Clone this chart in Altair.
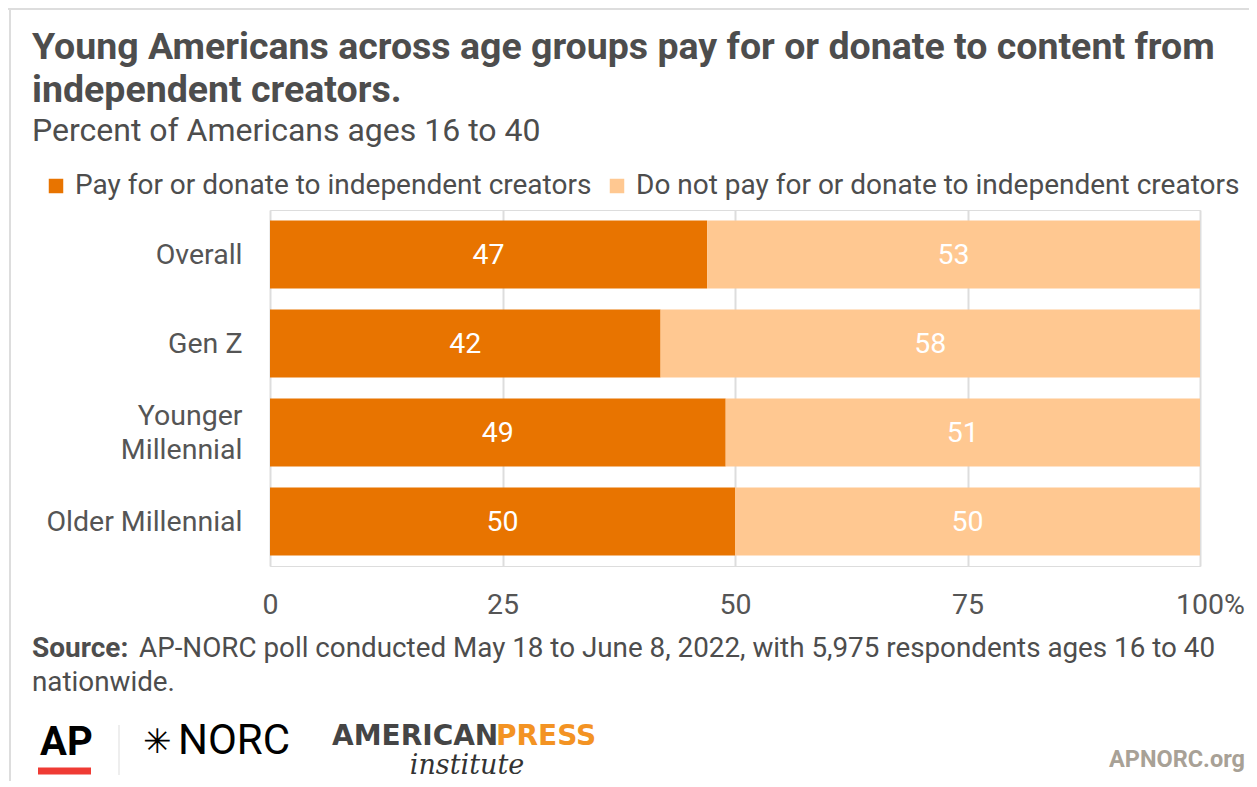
import altair as alt
import pandas as pd

# ---- data ----
categories = ["Overall", "Gen Z", "Younger Millennial", "Older Millennial"]
pay_values = [47, 42, 49, 50]
notpay_values = [53, 58, 51, 50]
series_names = ["Pay for or donate to independent creators",
                "Do not pay for or donate to independent creators"]
series_colors = ["#E87400", "#FFC891"]
x_ticks = [0, 25, 50, 75, 100]

title_lines = ["Young Americans across age groups pay for or donate to content from",
               "independent creators."]
subtitle = "Percent of Americans ages 16 to 40"
source_bold = "Source:"
source_line1 = "AP-NORC poll conducted May 18 to June 8, 2022, with 5,975 respondents ages 16 to 40"
source_line2 = "nationwide."

rows = []
for i, c in enumerate(categories):
    rows.append({"category": c, "series": series_names[0], "order": 0, "value": pay_values[i]})
    rows.append({"category": c, "series": series_names[1], "order": 1, "value": notpay_values[i]})
df = pd.DataFrame(rows)

TEXT = "#4d4d4d"
one = alt.Data(values=[{"a": 1}])


def txt(text, x, y, size, weight="normal", color=TEXT, font="Roboto", align="left", style="normal"):
    return alt.Chart(one).mark_text(
        text=text, align=align, baseline="alphabetic", fontSize=size,
        fontWeight=weight, color=color, font=font, fontStyle=style
    ).encode(x=alt.value(x), y=alt.value(y))


def rule(x, x2, y, y2, color, width):
    return alt.Chart(one).mark_rule(color=color, strokeWidth=width).encode(
        x=alt.value(x), x2=alt.value(x2), y=alt.value(y), y2=alt.value(y2))


y_enc = alt.Y("category:N", sort=categories, title=None,
              scale=alt.Scale(paddingInner=0.236, paddingOuter=0.118),
              axis=alt.Axis(domain=False, ticks=False, grid=False, labelFontSize=28.5,
                            labelFont="Roboto", labelColor="#555555", labelPadding=28,
                            labelLineHeight=34, labelLimit=400,
                            labelOffset={"condition": {"test": "datum.value == 'Younger Millennial'", "value": -17}, "value": 0},
                            labelExpr="datum.label == 'Younger Millennial' ? ['Younger\u00a0', 'Millennial'] : datum.label"))

base = alt.Chart(df).transform_stack(
    stack="value", groupby=["category"], as_=["x0", "x1"],
    sort=[alt.SortField("order", order="ascending")]
).transform_calculate(mid="(datum.x0 + datum.x1) / 2")

bars = base.mark_bar().encode(
    x=alt.X("x0:Q", title=None, scale=alt.Scale(domain=[0, 100], nice=False),
            axis=alt.Axis(values=x_ticks, grid=True, gridColor="#dddddd", gridWidth=2,
                          domain=False, ticks=False, labelFontSize=28.5, labelFont="Roboto",
                          labelColor="#555555", labelPadding=24, labelFlush=False,
                          labelExpr="datum.value == 100 ? '100%' : datum.label",
                          labelOffset={"condition": {"test": "datum.value == 100", "value": 10}, "value": 0})),
    x2="x1:Q",
    y=y_enc,
    color=alt.Color("series:N", sort=series_names,
                    scale=alt.Scale(domain=series_names, range=series_colors),
                    legend=alt.Legend(title=None, orient="none", legendX=-228, legendY=-38,
                                      direction="horizontal", symbolType="square",
                                      symbolSize=210, symbolStrokeWidth=0, symbolOpacity=1,
                                      labelFontSize=28, labelFont="Roboto", labelColor=TEXT,
                                      labelOffset=5, columnPadding=11, padding=0,
                                      labelLimit=800)),
)

labels = base.mark_text(color="white", fontSize=28.5, font="Roboto", baseline="middle").encode(
    x=alt.X("mid:Q"),
    y=alt.Y("category:N", sort=categories),
    text=alt.Text("value:Q"),
)

annotations = [
    rule(-262, 1000, -201, -201, "#dddddd", 2),
    rule(-260, -260, -202, 600, "#dddddd", 2),
    txt(title_lines[0], -238, -151, 37.5, weight="bold"),
    txt(title_lines[1], -238, -108, 37.5, weight="bold"),
    txt(subtitle, -238, -69, 32),
    txt(source_bold, -238, 447, 28, weight="bold"),
    txt(source_line1, -131, 447, 27.8),
    txt(source_line2, -238, 481, 27.8),
    txt("AP", -230, 545, 40, weight="bold", color="#000000"),
    rule(-232, -179, 561, 561, "#ef3b34", 7),
    rule(-151, -151, 515, 565, "#dddddd", 1),
    txt("\u2733", -127, 543, 34, color="#000000", font="DejaVu Sans"),
    txt("NORC", -92, 544, 42, color="#000000"),
    txt("AMERICAN", 62, 535, 28, weight="bold", color="#454545", font="DejaVu Sans"),
    txt("PRESS", 226, 535, 28, weight="bold", color="#F39323", font="DejaVu Sans"),
    txt("institute", 197, 564, 27, color="#333333", font="DejaVu Serif", align="center", style="italic"),
    txt("APNORC.org", 975, 557, 23.5, weight="bold", color="#a8a196", align="right"),
]

chart = alt.layer(bars, labels, *annotations).properties(
    width=930, height=356,
    autosize=alt.AutoSizeParams(type="none"),
    padding={"left": 262, "top": 202, "right": 49, "bottom": 215},
).configure_view(stroke=None).configure(background="white")

chart.save("out.html", embed_options={"renderer": "svg", "actions": False})
